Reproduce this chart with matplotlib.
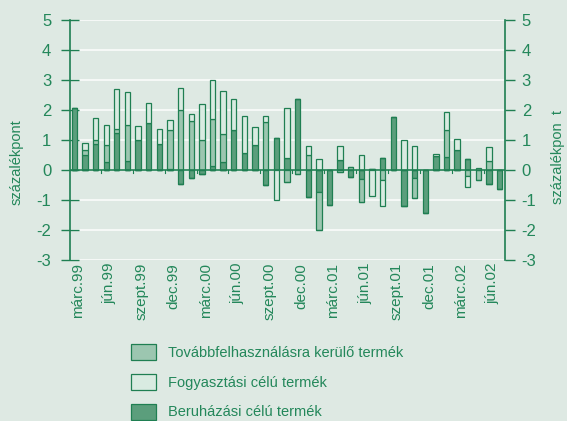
import numpy as np
import matplotlib.pyplot as plt
from matplotlib import font_manager

# monthly data, márc.99 .. júl.02 (százalékpont)
months = ['márc.99', 'ápr.99', 'máj.99', 'jún.99', 'júl.99', 'aug.99', 'szept.99', 'okt.99',
          'nov.99', 'dec.99', 'jan.00', 'febr.00', 'márc.00', 'ápr.00', 'máj.00', 'jún.00',
          'júl.00', 'aug.00', 'szept.00', 'okt.00', 'nov.00', 'dec.00', 'jan.01', 'febr.01',
          'márc.01', 'ápr.01', 'máj.01', 'jún.01', 'júl.01', 'aug.01', 'szept.01', 'okt.01',
          'nov.01', 'dec.01', 'jan.02', 'febr.02', 'márc.02', 'ápr.02', 'máj.02', 'jún.02',
          'júl.02']

# Beruházási célú termék
beruhazasi = [2.08, 0.51, 0.86, 0.26, 1.22, 0.31, 1.00, 1.57, 0.88, 0.05,
              -0.47, -0.28, -0.12, 0.14, 0.26, 1.34, 0.58, 0.83, -0.50, 1.06,
              0.41, 2.38, -0.91, -0.73, -1.15, 0.32, -0.23, -0.30, 0.03, 0.41,
              1.78, -1.19, -0.26, -1.43, 0.46, 0.44, 0.68, 0.37, 0.00, -0.46,
              -0.62]
# Továbbfelhasználásra kerülő termék
tovabbf = [0.00, 0.15, 0.15, 0.58, 0.14, 1.18, 0.00, 0.00, 0.00, 1.27,
           2.00, 1.62, 1.01, 1.55, 0.94, 0.00, 0.00, 0.00, 1.60, 0.00,
           -0.40, -0.12, 0.49, -1.26, 0.00, -0.05, 0.09, -0.78, 0.00, -0.32,
           0.00, 0.00, -0.67, 0.00, 0.00, 0.88, 0.00, -0.19, -0.32, 0.30,
           0.00]
# Fogyasztási célú termék
fogyasztasi = [0.00, 0.25, 0.71, 0.67, 1.35, 1.11, 0.48, 0.67, 0.50, 0.36,
               0.72, 0.26, 1.20, 1.32, 1.43, 1.03, 1.23, 0.61, 0.21, -0.99,
               1.66, 0.00, 0.31, 0.38, 0.00, 0.48, 0.00, 0.51, -0.86, -0.87,
               0.00, 1.00, 0.80, 0.00, 0.08, 0.62, 0.35, -0.37, 0.08, 0.48,
               0.00]

GREEN = '#1f7f52'
TEXT = '#23875a'
BG = '#dee9e3'

names = set(f.name for f in font_manager.fontManager.ttflist)
if 'Liberation Sans Narrow' in names:
    plt.rcParams['font.family'] = ['Liberation Sans Narrow', 'DejaVu Sans']
    fs = 12.5
else:
    plt.rcParams['font.family'] = ['Liberation Sans', 'DejaVu Sans']
    fs = 10.5
plt.rcParams['axes.unicode_minus'] = False

fig = plt.figure(figsize=(5.67, 4.21), dpi=100, facecolor=BG)
ax = fig.add_axes([70 / 567, 1 - 260 / 421, 435 / 567, 240 / 421])
ax.set_facecolor(BG)

x = np.arange(len(months))
series = [
    ('Beruházási célú termék', np.array(beruhazasi), '#5b9e7c'),
    ('Továbbfelhasználásra kerülő termék', np.array(tovabbf), '#9cc6b0'),
    ('Fogyasztási célú termék', np.array(fogyasztasi), '#d9ebe1'),
]

pos_base = np.zeros(len(x))
neg_base = np.zeros(len(x))
handles = {}
for name, vals, col in series:
    pos = np.where(vals > 0, vals, 0)
    neg = np.where(vals < 0, vals, 0)
    b = ax.bar(x, pos, 0.5, bottom=pos_base, color=col, edgecolor=GREEN, lw=0.9, zorder=3)
    ax.bar(x, neg, 0.5, bottom=neg_base, color=col, edgecolor=GREEN, lw=0.9, zorder=3)
    pos_base += pos
    neg_base += neg
    handles[name] = b

ax.axhline(0, color=GREEN, lw=1.2, zorder=4)
# small category ticks on the zero line, every third month
for xt in np.arange(2.5, len(x) - 1, 3):
    ax.plot([xt, xt], [0, -0.1], color=GREEN, lw=0.8, zorder=4)

ax.set_xlim(-0.4, len(x) - 0.5)
ax.set_ylim(-3, 5)
ax.set_yticks(range(-3, 6))
for yv in range(-3, 6):
    ax.axhline(yv, color='#f5f8f6', lw=1.5, zorder=1)

ax.set_xticks(x[::3] + 0.35)
ax.set_xticklabels(months[::3], rotation=90, color=TEXT, fontsize=fs + 0.5)
ax.tick_params(axis='x', length=0, pad=2)
ax.tick_params(axis='y', colors=GREEN, labelcolor=TEXT, labelsize=fs + 1.5,
               direction='inout', length=13, width=1.0, pad=7)

for side in ['top', 'bottom']:
    ax.spines[side].set_visible(False)
ax.spines['left'].set_color(GREEN)
ax.spines['left'].set_linewidth(1.2)
ax.spines['right'].set_visible(False)

ax2 = ax.twinx()
ax2.set_ylim(-3, 5)
ax2.set_yticks(range(-3, 6))
ax2.tick_params(axis='y', colors=GREEN, labelcolor=TEXT, labelsize=fs + 1.5,
                direction='out', length=7, width=1.0, pad=5)
for side in ['top', 'bottom', 'left']:
    ax2.spines[side].set_visible(False)
ax2.spines['right'].set_color(GREEN)
ax2.spines['right'].set_linewidth(1.2)

fig.text(17 / 567, 1 - 162 / 421, 'százalékpont', rotation=90, color=TEXT,
         fontsize=fs, ha='center', va='center')
fig.text(558 / 567, 1 - 157 / 421, 'százalékpon  t', rotation=90, color=TEXT,
         fontsize=fs, ha='center', va='center')

order = ['Továbbfelhasználásra kerülő termék', 'Fogyasztási célú termék', 'Beruházási célú termék']
fig.legend([handles[n] for n in order], order, loc='upper left',
           bbox_to_anchor=(118 / 567, 1 - 331 / 421), frameon=False,
           fontsize=fs, labelcolor=TEXT, handlelength=1.7, handleheight=1.3,
           labelspacing=0.95, handletextpad=0.85)

fig.savefig('out.png', dpi=100, facecolor=BG)
